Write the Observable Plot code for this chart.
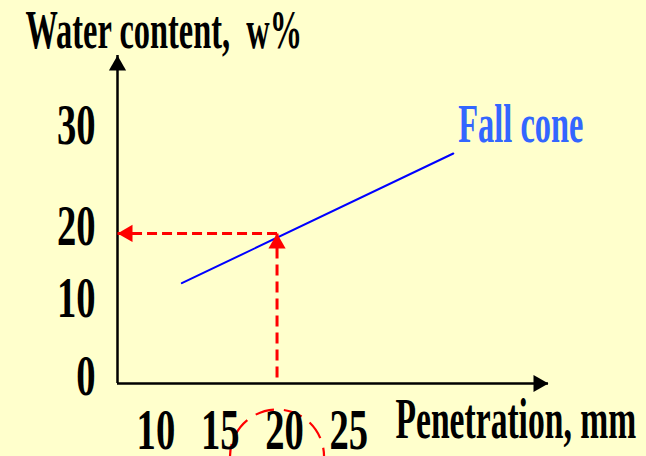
<!DOCTYPE html>
<html><head><meta charset="utf-8">
<script src="https://cdn.jsdelivr.net/npm/d3@7"></script>
<script src="https://cdn.jsdelivr.net/npm/@observablehq/plot@0.6"></script>
<style>html,body{margin:0;padding:0;background:#FFFFCC;overflow:hidden}</style>
</head><body><div id="chart"></div>
<script>
// ---- data ----
const xTicks = [10, 15, 20, 25];          // penetration, mm
const yTicks = [0, 10, 20, 30];           // water content, w%
const lineX = [12.6, 33.7];               // fall cone line, penetration
const lineY = [13.1, 27.9];               // fall cone line, water content
const readX = 20;                         // 20 mm penetration
const readY = 20;                         // read-off water content
const seriesLabel = "Fall cone";
const xLabel = "Penetration, mm";
const yLabel = "Water content,  w%";
const xDomain = [7.6, 41.1];

// The original's water-content axis is hand-drawn with unevenly spaced
// labels; this piecewise warp reproduces that spacing before Plot's y scale.
const yWarp = d3.scaleLinear().domain(yTicks).range([0, 10.4, 20, 33.5]);
const yDomain = [0, 43.73];

// ---- styles ----
const red = "#FF0000";
const bg = "#FFFFCC";
const font = "'Liberation Serif', 'Times New Roman', serif";

const lineData = lineX.map((x, i) => ({x, y: lineY[i]}));
const vGuide = [{x1: readX, y1: 0, x2: readX, y2: readY}];
const hGuide = [{x1: readX, y1: readY, x2: xDomain[0], y2: readY}];

const plot = Plot.plot({
  width: 646, height: 456,
  marginLeft: 117, marginRight: 98, marginTop: 55, marginBottom: 73,
  style: {background: bg, fontFamily: font, overflow: "hidden"},
  x: {domain: xDomain, axis: null},
  y: {domain: yDomain, axis: null},
  marks: [
    // axes
    Plot.ruleY([0], {y: d => yWarp(d), stroke: "black", strokeWidth: 2.5}),
    Plot.ruleX([xDomain[0]], {stroke: "black", strokeWidth: 2.5}),
    Plot.dot([0], {frameAnchor: "top-left", symbol: "triangle", r: 6.4, fill: "black", dy: 10}),
    Plot.dot([0], {frameAnchor: "bottom-right", symbol: "triangle", r: 6.4, fill: "black", rotate: 90, dx: -10}),
    // fall cone line
    Plot.line(lineData, {x: "x", y: d => yWarp(d.y), stroke: "#0000FF", strokeWidth: 2}),
    // red guides
    Plot.link(vGuide, {x1: "x1", y1: d => yWarp(d.y1), x2: "x2", y2: d => yWarp(d.y2), stroke: red, strokeWidth: 3, strokeDasharray: "11,6", strokeDashoffset: 11}),
    Plot.link(hGuide, {x1: "x1", y1: d => yWarp(d.y1), x2: "x2", y2: d => yWarp(d.y2), stroke: red, strokeWidth: 3, strokeDasharray: "10,5"}),
    Plot.dot([{x: readX, y: readY}], {x: "x", y: d => yWarp(d.y), symbol: "triangle", r: 6.4, fill: red, dy: 10}),
    Plot.dot([{x: xDomain[0], y: readY}], {x: "x", y: d => yWarp(d.y), symbol: "triangle", r: 6.4, fill: red, rotate: -90, dx: 10}),
    // dashed circle around the 20 mm label
    Plot.dot([readX], {x: d => d, frameAnchor: "bottom", dy: 73, r: 47, stroke: red, fill: "none", strokeWidth: 2.2, strokeDasharray: "19,10", strokeDashoffset: 4}),
    // tick labels
    Plot.text(yTicks, {y: d => yWarp(d), frameAnchor: "left", text: d => String(d), textAnchor: "end", dx: -22, dy: -6.5, fontSize: 56, fontWeight: "bold", fill: "black"}),
    Plot.text(xTicks, {x: d => d, frameAnchor: "bottom", text: d => String(d), lineAnchor: "bottom", dx: 7.5, dy: 65, fontSize: 56, fontWeight: "bold", fill: "black"}),
    // axis titles
    Plot.text([yLabel], {frameAnchor: "top-left", text: d => d, textAnchor: "start", lineAnchor: "bottom", dx: -92, dy: -8, fontSize: 54, fontWeight: "bold", fill: "black"}),
    Plot.text([xLabel], {frameAnchor: "bottom-right", text: d => d, textAnchor: "start", lineAnchor: "bottom", dx: -153, dy: 54, fontSize: 56, fontWeight: "bold", fill: "black"}),
    // series label
    Plot.text([{x: lineX[1], y: lineY[1], t: seriesLabel}], {x: "x", y: d => yWarp(d.y), text: "t", textAnchor: "start", lineAnchor: "bottom", dx: 5, dy: -11, fontSize: 54, fontWeight: "bold", fill: "#3366FF"})
  ]
});
document.getElementById("chart").appendChild(plot);

// condense the serif text like the original
d3.select(plot).selectAll("text").each(function() {
  const t = this.textContent;
  const f = /^\d+$/.test(t) ? 0.69 : 0.6;
  const w = this.getComputedTextLength();
  this.setAttribute("textLength", (w * f).toFixed(1));
  this.setAttribute("lengthAdjust", "spacingAndGlyphs");
});
</script>
</body></html>
